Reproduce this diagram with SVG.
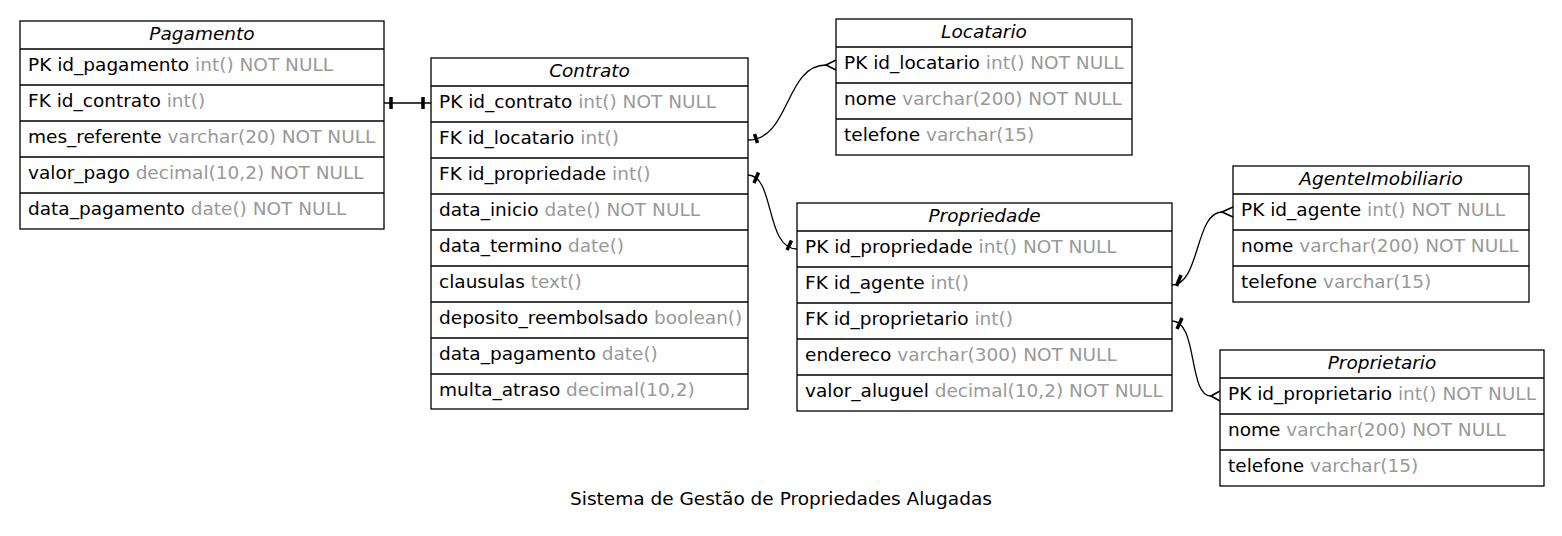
<svg xmlns="http://www.w3.org/2000/svg" width="1562" height="536" viewBox="0 0 1562 536">
<style>
.box{fill:#fff;stroke:#000;stroke-width:1.3}
.sep{stroke:#000;stroke-width:1.3}
text{font-family:"DejaVu Sans",sans-serif;font-size:18.5px;fill:#000}
.t{font-style:italic;text-anchor:middle}
.g{fill:#999}
.e{fill:none;stroke:#000;stroke-width:1.3}
.tee{stroke:#000;stroke-width:3.5;fill:none}
.crow{fill:none;stroke:#000;stroke-width:1.6}
</style>
<rect width="1562" height="536" fill="#fff"/>

<g id="Pagamento">
<rect class="box" x="20" y="21" width="364" height="208"/>
<path class="sep" d="M20,49H384M20,85H384M20,121H384M20,157H384M20,193H384"/>
<text class="t" x="202" y="40">Pagamento</text>
<text x="28" y="71">PK id_pagamento <tspan class="g">int() NOT NULL</tspan></text>
<text x="28" y="107">FK id_contrato <tspan class="g">int()</tspan></text>
<text x="28" y="143">mes_referente <tspan class="g">varchar(20) NOT NULL</tspan></text>
<text x="28" y="179">valor_pago <tspan class="g">decimal(10,2) NOT NULL</tspan></text>
<text x="28" y="215">data_pagamento <tspan class="g">date() NOT NULL</tspan></text>
</g>

<g id="Contrato">
<rect class="box" x="431" y="58" width="317" height="351"/>
<path class="sep" d="M431,86H748M431,122H748M431,158H748M431,194H748M431,230H748M431,266H748M431,302H748M431,338H748M431,374H748"/>
<text class="t" x="589.5" y="77">Contrato</text>
<text x="439" y="108">PK id_contrato <tspan class="g">int() NOT NULL</tspan></text>
<text x="439" y="144">FK id_locatario <tspan class="g">int()</tspan></text>
<text x="439" y="180">FK id_propriedade <tspan class="g">int()</tspan></text>
<text x="439" y="216">data_inicio <tspan class="g">date() NOT NULL</tspan></text>
<text x="439" y="252">data_termino <tspan class="g">date()</tspan></text>
<text x="439" y="288">clausulas <tspan class="g">text()</tspan></text>
<text x="439" y="324">deposito_reembolsado <tspan class="g">boolean()</tspan></text>
<text x="439" y="360">data_pagamento <tspan class="g">date()</tspan></text>
<text x="439" y="396">multa_atraso <tspan class="g">decimal(10,2)</tspan></text>
</g>

<g id="Locatario">
<rect class="box" x="836" y="19" width="296" height="136"/>
<path class="sep" d="M836,47H1132M836,83H1132M836,119H1132"/>
<text class="t" x="984" y="38">Locatario</text>
<text x="844" y="69">PK id_locatario <tspan class="g">int() NOT NULL</tspan></text>
<text x="844" y="105">nome <tspan class="g">varchar(200) NOT NULL</tspan></text>
<text x="844" y="141">telefone <tspan class="g">varchar(15)</tspan></text>
</g>

<g id="Propriedade">
<rect class="box" x="797" y="203" width="375" height="208"/>
<path class="sep" d="M797,231H1172M797,267H1172M797,303H1172M797,339H1172M797,375H1172"/>
<text class="t" x="984.5" y="222">Propriedade</text>
<text x="805" y="253">PK id_propriedade <tspan class="g">int() NOT NULL</tspan></text>
<text x="805" y="289">FK id_agente <tspan class="g">int()</tspan></text>
<text x="805" y="325">FK id_proprietario <tspan class="g">int()</tspan></text>
<text x="805" y="361">endereco <tspan class="g">varchar(300) NOT NULL</tspan></text>
<text x="805" y="397">valor_aluguel <tspan class="g">decimal(10,2) NOT NULL</tspan></text>
</g>

<g id="AgenteImobiliario">
<rect class="box" x="1233" y="166" width="296" height="136"/>
<path class="sep" d="M1233,194H1529M1233,230H1529M1233,266H1529"/>
<text class="t" x="1381" y="185">AgenteImobiliario</text>
<text x="1241" y="216">PK id_agente <tspan class="g">int() NOT NULL</tspan></text>
<text x="1241" y="252">nome <tspan class="g">varchar(200) NOT NULL</tspan></text>
<text x="1241" y="288">telefone <tspan class="g">varchar(15)</tspan></text>
</g>

<g id="Proprietario">
<rect class="box" x="1220" y="350" width="324" height="136"/>
<path class="sep" d="M1220,378H1544M1220,414H1544M1220,450H1544"/>
<text class="t" x="1382" y="369">Proprietario</text>
<text x="1228" y="400">PK id_proprietario <tspan class="g">int() NOT NULL</tspan></text>
<text x="1228" y="436">nome <tspan class="g">varchar(200) NOT NULL</tspan></text>
<text x="1228" y="472">telefone <tspan class="g">varchar(15)</tspan></text>
</g>

<g id="connectors">
<path class="e" d="M384,103H431"/>
<path class="tee" d="M391,97V109M423,97V109"/>

<path class="e" d="M748,140C790,140 785,65 826,65"/>
<path class="tee" d="M754.5,134L757.5,143"/>
<path class="crow" d="M836,60L826,65L836,70"/>

<path class="e" d="M748,175C775,175 765,249 797,249"/>
<path class="tee" d="M754,183L758.5,172.5M787,250L791.5,240.5"/>

<path class="e" d="M1172,285C1200,285 1195,212 1222,212"/>
<path class="crow" d="M1233,207L1222,212L1233,217"/>
<path class="tee" d="M1176.5,286L1181,275"/>

<path class="e" d="M1172,321C1198,321 1188,396 1211,396"/>
<path class="crow" d="M1220,391L1211,396L1220,401"/>
<path class="tee" d="M1177,329L1182,318"/>
</g>

<text x="781" y="505" style="text-anchor:middle">Sistema de Gestão de Propriedades Alugadas</text>
</svg>
